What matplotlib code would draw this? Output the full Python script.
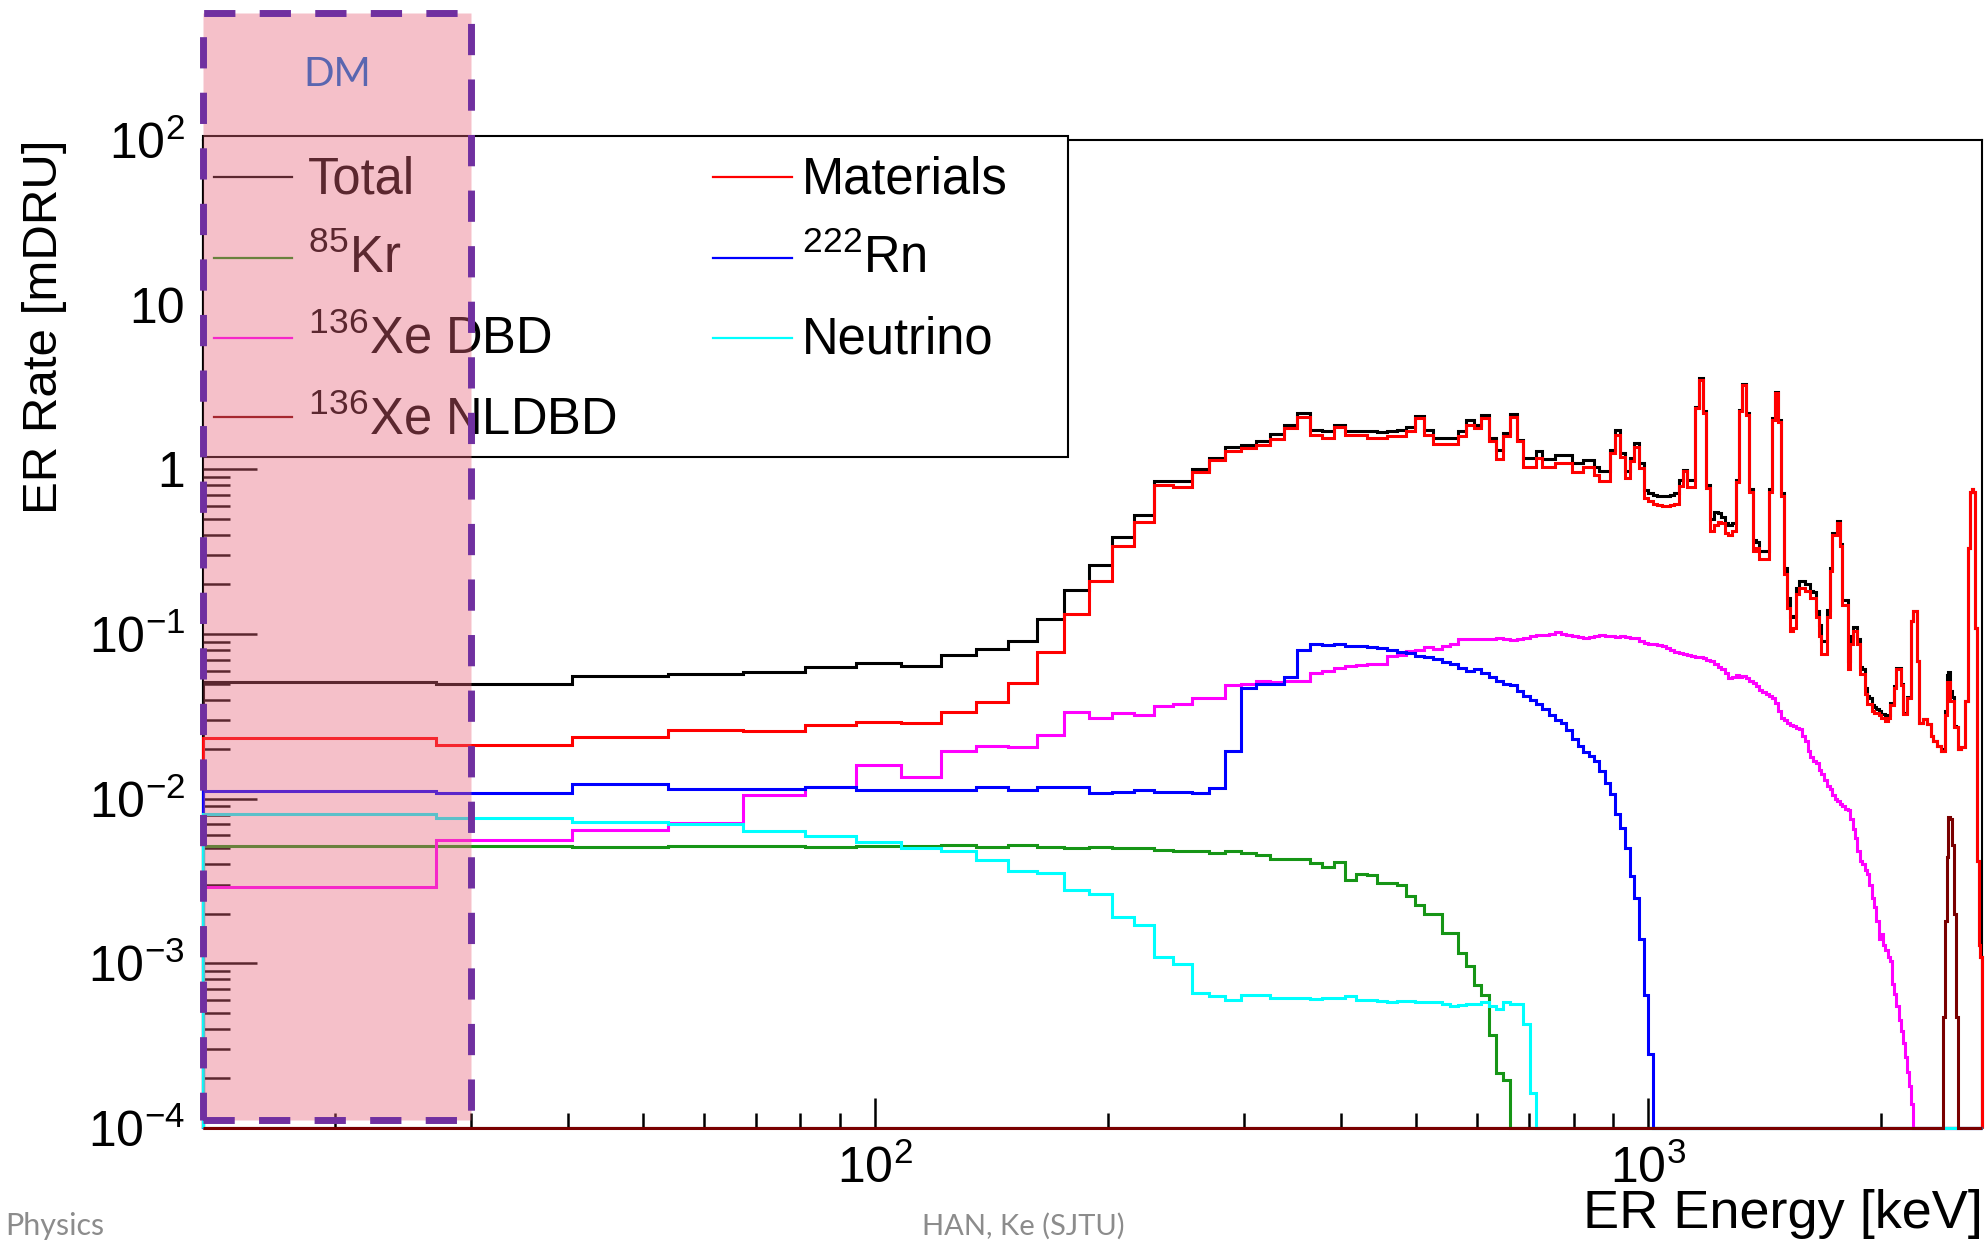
import numpy as np
import matplotlib
matplotlib.use("Agg")
import matplotlib.pyplot as plt
import matplotlib.ticker as ticker
from matplotlib.patches import Rectangle
from matplotlib.transforms import blended_transform_factory

plt.rcParams["font.family"] = ["Liberation Sans", "DejaVu Sans"]
plt.rcParams["mathtext.fontset"] = "custom"
plt.rcParams["mathtext.rm"] = "Liberation Sans"
plt.rcParams["mathtext.it"] = "Liberation Sans:italic"
plt.rcParams["mathtext.bf"] = "Liberation Sans:bold"
plt.rcParams["mathtext.sf"] = "Liberation Sans"

# histogram binning (keV); first drawn bin starts at one bin width
BIN_WIDTH = 13.5
E_MIN, E_MAX = 13.5, 2700.0
RATE_MIN, RATE_MAX = 1e-4, 100.0
DM_E_MAX = 30.0

# ER rate per bin [mDRU], bins 1..199
total = [
    0.051, 0.050, 0.0556, 0.0574, 0.059, 0.063, 0.067, 0.064, 0.0743, 0.0815,
    0.0907, 0.123, 0.184, 0.263, 0.387, 0.531, 0.853, 0.845, 1.01, 1.17,
    1.36, 1.41, 1.49, 1.64, 1.87, 2.19, 1.74, 1.70, 1.87, 1.72,
    1.70, 1.70, 1.69, 1.72, 1.74, 1.80, 2.10, 1.74, 1.56, 1.56,
    1.56, 1.72, 2.00, 1.87, 2.14, 1.55, 1.315, 1.66, 2.16, 1.51,
    1.17, 1.17, 1.285, 1.16, 1.16, 1.215, 1.215, 1.215, 1.09, 1.09,
    1.145, 1.145, 1.03, 0.973, 0.973, 1.315, 1.74, 1.255, 0.973, 1.17,
    1.445, 1.09, 0.753, 0.719, 0.70, 0.686, 0.686, 0.686, 0.70, 0.719,
    0.866, 0.995, 0.86, 0.86, 2.40, 3.58, 2.25, 0.80, 0.50, 0.55,
    0.54, 0.51, 0.47, 0.46, 0.47, 0.86, 2.30, 3.30, 2.20, 0.76,
    0.37, 0.36, 0.32, 0.32, 0.32, 0.76, 2.05, 2.95, 1.98, 0.72,
    0.253, 0.166, 0.126, 0.128, 0.19, 0.21, 0.21, 0.20, 0.20, 0.182,
    0.18, 0.138, 0.114, 0.0907, 0.0907, 0.14, 0.25, 0.41, 0.41, 0.485,
    0.35, 0.16, 0.16, 0.0686, 0.0966, 0.11, 0.11, 0.093, 0.063, 0.061,
    0.047, 0.042, 0.041, 0.037, 0.036, 0.035, 0.034, 0.0325, 0.0325, 0.031,
    0.032, 0.038, 0.038, 0.048, 0.062, 0.062, 0.050, 0.033, 0.033, 0.0412,
    0.0412, 0.120, 0.138, 0.138, 0.0686, 0.029, 0.029, 0.0304, 0.0304, 0.0284,
    0.0284, 0.024, 0.0225, 0.0225, 0.021, 0.021, 0.0195, 0.020, 0.034, 0.056,
    0.059, 0.045, 0.0413, 0.0275, 0.0272, 0.020, 0.020, 0.0205, 0.0205, 0.0393,
    0.0393, 0.334, 0.73, 0.76, 0.73, 0.109, 0.0042, 0.0013, 0.0011,
]

materials = [
    0.0234, 0.0213, 0.0238, 0.0262, 0.0258, 0.0281, 0.0292, 0.0288, 0.0334, 0.0387,
    0.0507, 0.0778, 0.133, 0.209, 0.341, 0.477, 0.808, 0.785, 0.963, 1.135,
    1.29, 1.35, 1.40, 1.53, 1.78, 2.07, 1.62, 1.56, 1.82, 1.61,
    1.61, 1.56, 1.56, 1.585, 1.585, 1.70, 2.05, 1.61, 1.425, 1.425,
    1.425, 1.585, 1.87, 1.78, 2.05, 1.48, 1.16, 1.585, 2.07, 1.48,
    1.04, 1.04, 1.17, 1.03, 1.03, 1.09, 1.09, 1.09, 0.963, 0.963,
    1.03, 1.03, 0.929, 0.853, 0.853, 1.255, 1.62, 1.18, 0.886, 1.13,
    1.36, 1.02, 0.67, 0.64, 0.617, 0.605, 0.597, 0.597, 0.605, 0.62,
    0.788, 0.973, 0.778, 0.778, 2.35, 3.50, 2.20, 0.77, 0.421, 0.457,
    0.48, 0.473, 0.41, 0.40, 0.421, 0.833, 2.25, 3.26, 2.15, 0.73,
    0.319, 0.334, 0.284, 0.284, 0.284, 0.73, 2.00, 2.90, 1.95, 0.686,
    0.230, 0.144, 0.104, 0.109, 0.175, 0.191, 0.191, 0.182, 0.182, 0.166,
    0.166, 0.126, 0.097, 0.0753, 0.0753, 0.126, 0.24, 0.402, 0.402, 0.473,
    0.34, 0.151, 0.151, 0.061, 0.087, 0.104, 0.104, 0.087, 0.057, 0.057,
    0.0432, 0.0378, 0.0378, 0.0341, 0.0333, 0.0333, 0.032, 0.0311, 0.0311, 0.0297,
    0.0311, 0.037, 0.037, 0.047, 0.061, 0.061, 0.049, 0.0326, 0.0326, 0.041,
    0.041, 0.120, 0.138, 0.138, 0.0686, 0.029, 0.029, 0.0304, 0.0304, 0.0284,
    0.0284, 0.024, 0.0225, 0.0225, 0.021, 0.021, 0.0195, 0.0195, 0.032, 0.051,
    0.051, 0.0393, 0.0393, 0.0272, 0.0272, 0.020, 0.020, 0.0205, 0.0205, 0.0393,
    0.0393, 0.334, 0.73, 0.76, 0.73, 0.109, 0.0042, 0.0013, 0.0011,
]

kr85 = [
    0.00519, 0.00519, 0.00512, 0.00519, 0.00519, 0.00512, 0.00519, 0.00519, 0.0052, 0.00512,
    0.00526, 0.00507, 0.0050, 0.00507, 0.0050, 0.0050, 0.00489, 0.0048, 0.0048, 0.00466,
    0.0048, 0.00466, 0.00452, 0.0043, 0.0043, 0.0043, 0.00405, 0.00387, 0.0041, 0.00321,
    0.00349, 0.00345, 0.00307, 0.00307, 0.00297, 0.00258, 0.00225, 0.0020, 0.0020, 0.00153,
    0.00153, 0.00115, 0.00097, 0.00074, 0.00064, 0.000366, 0.000215, 0.000195,
] + [0.0] * 151

xe136_dbd = [
    0.00292, 0.00559, 0.00648, 0.00712, 0.01047, 0.0117, 0.0161, 0.01346, 0.0195, 0.0208,
    0.0205, 0.0243, 0.0338, 0.0308, 0.033, 0.0322, 0.0366, 0.0375, 0.0408, 0.0408,
    0.049, 0.050, 0.0519, 0.051, 0.0515, 0.0515, 0.0583, 0.060, 0.0625, 0.064,
    0.065, 0.066, 0.0655, 0.0736, 0.075, 0.0789, 0.080, 0.0834, 0.081, 0.085,
    0.0873, 0.0929, 0.093, 0.0935, 0.093, 0.093, 0.094, 0.093, 0.0916, 0.093,
    0.095, 0.0973, 0.098, 0.0985, 0.100, 0.103, 0.100, 0.0985, 0.097, 0.096,
    0.095, 0.096, 0.097, 0.098, 0.097, 0.097, 0.096, 0.097, 0.096, 0.095,
    0.095, 0.091, 0.0886, 0.087, 0.087, 0.086, 0.084, 0.0819, 0.080, 0.078,
    0.077, 0.076, 0.075, 0.074, 0.0726, 0.0726, 0.071, 0.070, 0.0686, 0.066,
    0.063, 0.0611, 0.058, 0.0544, 0.055, 0.056, 0.055, 0.0556, 0.054, 0.052,
    0.0506, 0.048, 0.046, 0.0443, 0.043, 0.042, 0.041, 0.038, 0.034, 0.031,
    0.030, 0.029, 0.028, 0.0275, 0.027, 0.0265, 0.024, 0.0225, 0.0195, 0.018,
    0.017, 0.0165, 0.015, 0.0141, 0.013, 0.012, 0.0115, 0.0105, 0.0100, 0.0097,
    0.0093, 0.0090, 0.0087, 0.0085, 0.0075, 0.0065, 0.0058, 0.0048, 0.0042, 0.0040,
    0.0037, 0.0035, 0.0030, 0.0025, 0.0022, 0.0018, 0.0014, 0.0015, 0.0013, 0.0012,
    0.0011, 0.00104, 0.00075, 0.00065, 0.00055, 0.00045, 0.00039, 0.00033, 0.00027, 0.00022,
    0.00018, 0.00014,
] + [0.0] * 37

rn222 = [
    0.0111, 0.0109, 0.0122, 0.0115, 0.0114, 0.0117, 0.0113, 0.0113, 0.0113, 0.0117,
    0.0113, 0.0117, 0.0118, 0.0109, 0.0110, 0.0113, 0.0110, 0.0110, 0.0109, 0.0116,
    0.0194, 0.0467, 0.050, 0.050, 0.055, 0.0796, 0.0865, 0.0858, 0.0865, 0.0846,
    0.0846, 0.0835, 0.0820, 0.080, 0.078, 0.077, 0.0736, 0.072, 0.0702, 0.068,
    0.066, 0.0625, 0.060, 0.061, 0.058, 0.055, 0.052, 0.050, 0.049, 0.045,
    0.042, 0.040, 0.0375, 0.035, 0.032, 0.030, 0.029, 0.026, 0.023, 0.021,
    0.0191, 0.0182, 0.0170, 0.0148, 0.0124, 0.0106, 0.0081, 0.0066, 0.0050, 0.0034,
    0.0025, 0.0014, 0.00064, 0.00028,
] + [0.0] * 125

neutrino = [
    0.0081, 0.00764, 0.00726, 0.00703, 0.00637, 0.00591, 0.00549, 0.00502, 0.00482, 0.00425,
    0.00363, 0.00353, 0.00279, 0.00262, 0.00191, 0.00172, 0.00109, 0.000996, 0.00066, 0.00063,
    0.000597, 0.000646, 0.000646, 0.00062, 0.00062, 0.00062, 0.00061, 0.00062, 0.00062, 0.00063,
    0.0006, 0.0006, 0.00059, 0.00058, 0.00059, 0.00059, 0.00058, 0.00058, 0.00058, 0.00057,
    0.00055, 0.00056, 0.00057, 0.00057, 0.00058, 0.00055, 0.00053, 0.00058, 0.00057, 0.00057,
    0.00043, 0.000162,
] + [0.0] * 147

xe136_nldbd = [0.0] * 177 + [
    0.00047, 0.0018, 0.0044, 0.0077, 0.0075, 0.0052, 0.0020, 0.00047,
] + [0.0] * 14

# legend layout: ROOT fills the two columns row by row
legend_rows = [
    [("Total", "black"), ("Materials", "#ff0000")],
    [(r"$^{85}$Kr", "#169516"), (r"$^{222}$Rn", "#0000ff")],
    [(r"$^{136}$Xe DBD", "#ff00ff"), ("Neutrino", "#00ffff")],
    [(r"$^{136}$Xe NLDBD", "#7a0000")],
]

# drawing order of the outlines
series = [
    (total, "black"),
    (materials, "#ff0000"),
    (kr85, "#169516"),
    (xe136_dbd, "#ff00ff"),
    (rn222, "#0000ff"),
    (neutrino, "#00ffff"),
    (xe136_nldbd, "#7a0000"),
]

x_tick_values = [100, 1000]
x_tick_labels = ["$10^{2}$", "$10^{3}$"]
y_tick_values = [1e-4, 1e-3, 1e-2, 1e-1, 1, 10, 100]
y_tick_labels = ["$10^{-4}$", "$10^{-3}$", "$10^{-2}$", "$10^{-1}$", "1", "10", "$10^{2}$"]

W, H = 1987, 1240
fig = plt.figure(figsize=(W / 100, H / 100), dpi=100)
fig.patch.set_facecolor("white")
ax = fig.add_axes([203 / W, 112 / H, 1779 / W, 988 / H])

edges = BIN_WIDTH * np.arange(1, len(total) + 2)
for vals, col in series:
    # empty bins sit on the bottom of the frame, as ROOT draws them
    v = np.clip(np.asarray(vals, dtype=float), RATE_MIN, None)
    ax.stairs(v, edges, baseline=RATE_MIN, color=col, lw=2.2,
              clip_on=False, zorder=3)

ax.set_xscale("log")
ax.set_yscale("log")
ax.set_xlim(E_MIN, E_MAX)
ax.set_ylim(RATE_MIN, RATE_MAX)

ax.xaxis.set_major_locator(ticker.FixedLocator(x_tick_values))
ax.xaxis.set_major_formatter(ticker.FixedFormatter(x_tick_labels))
ax.xaxis.set_minor_locator(ticker.LogLocator(base=10, subs=np.arange(2, 10)))
ax.xaxis.set_minor_formatter(ticker.NullFormatter())
ax.yaxis.set_major_locator(ticker.FixedLocator(y_tick_values))
ax.yaxis.set_major_formatter(ticker.FixedFormatter(y_tick_labels))
ax.yaxis.set_minor_locator(ticker.LogLocator(base=10, subs=np.arange(2, 10), numticks=20))
ax.yaxis.set_minor_formatter(ticker.NullFormatter())

ax.tick_params(axis="both", which="both", direction="in", colors="black",
               top=False, right=False)
ax.tick_params(axis="y", which="major", length=39, width=1.8, pad=13, labelsize=36)
ax.tick_params(axis="y", which="minor", length=19.5, width=1.8)
ax.tick_params(axis="x", which="major", length=21.6, width=1.8, pad=12, labelsize=36)
ax.tick_params(axis="x", which="minor", length=10.8, width=1.8)
for sp in ax.spines.values():
    sp.set_linewidth(1.5)
    sp.set_color("black")

# legend box drawn by hand to keep ROOT's wide, row-filled layout
ax.add_patch(Rectangle((0.0, 0.679), 0.4862, 0.325, transform=ax.transAxes,
                       facecolor="white", edgecolor="black", lw=1.5,
                       zorder=5, clip_on=False))
row_line_y = [0.9626, 0.8806, 0.7996, 0.7196]
row_text_y = [0.9454, 0.8654, 0.7844, 0.7024]
col_line_x = [(0.0062, 0.050), (0.2867, 0.3311)]
col_text_x = [0.059, 0.3367]
for r, row in enumerate(legend_rows):
    for c, (label, col) in enumerate(row):
        ax.plot(col_line_x[c], [row_line_y[r]] * 2, color=col, lw=1.6,
                transform=ax.transAxes, zorder=6, clip_on=False)
        ax.text(col_text_x[c], row_text_y[r], label, transform=ax.transAxes,
                fontsize=36.5, ha="left", va="baseline", zorder=6)

fig.text(1983 / W, 12 / H, "ER Energy [keV]", fontsize=39, ha="right", va="baseline")
fig.text(22 / W, 1 - 139 / H, "ER Rate [mDRU]", fontsize=35.5, rotation=90,
         ha="left", va="top")

# dark-matter search window
dm_trans = blended_transform_factory(ax.transData, fig.transFigure)
ax.add_patch(Rectangle((E_MIN, 120 / H), DM_E_MAX - E_MIN, 1107 / H,
                       transform=dm_trans, facecolor=(0.90, 0.39, 0.47, 0.40),
                       edgecolor="#7030a0", lw=5, linestyle=(0, (4.5, 3.5)),
                       zorder=10, clip_on=False))
ax.text((E_MIN * DM_E_MAX) ** 0.5, 1 - 75 / H, "DM", transform=dm_trans,
        fontsize=29, family="Lato", color="#5a66b0", ha="center", va="center",
        zorder=11)

fig.text(5 / W, 5 / H, "Physics", fontsize=22, family="Lato", color="#8c8c8c",
         ha="left", va="baseline")
fig.text(922 / W, 5 / H, "HAN, Ke (SJTU)", fontsize=21, family="Lato",
         color="#8c8c8c", ha="left", va="baseline")

fig.savefig("out.png", dpi=100)
